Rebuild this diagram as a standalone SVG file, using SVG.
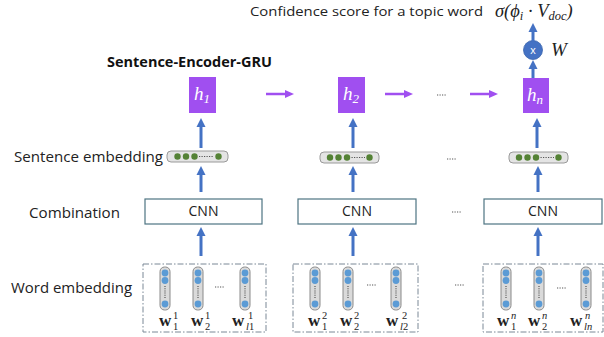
<svg xmlns="http://www.w3.org/2000/svg" width="604" height="337" viewBox="0 0 604 337">
  <defs>
    <style>
      .lbl { font-family: "Open Sans", "Liberation Sans", sans-serif; font-size: 14px; fill: #222; }
      .ttl { font-family: "Open Sans", "Liberation Sans", sans-serif; font-size: 13.5px; fill: #222; }
      .bold { font-family: "Open Sans", "Liberation Sans", sans-serif; font-size: 13.5px; font-weight: bold; fill: #111; }
      .math { font-family: "Liberation Serif", "DejaVu Serif", serif; font-style: italic; fill: #222; }
      .hlab { font-family: "Liberation Serif", "DejaVu Serif", serif; font-style: italic; fill: #fff; font-size: 19px; }
      .hsub { font-size: 13px; }
      .w { font-family: "Liberation Serif", "DejaVu Serif", serif; font-weight: bold; font-size: 17px; fill: #222; }
      .ix { font-family: "Liberation Serif", "DejaVu Serif", serif; font-size: 10.5px; fill: #222; }
      .ixi { font-family: "Liberation Serif", "DejaVu Serif", serif; font-style: italic; font-size: 10.5px; fill: #222; }
      .hbox { fill: #a04ff0; }
      .cnn { fill: #fff; stroke: #4e7482; stroke-width: 1.2; }
      .cnntxt { font-family: "Open Sans", "Liberation Sans", sans-serif; font-size: 14px; fill: #222; text-anchor: middle; }
      .pill { fill: #e4e4e4; stroke: #9a9a9a; stroke-width: 1; }
      .gdot { fill: #548235; }
      .bdot { fill: #5b9bd5; }
      .vec { fill: #dadada; stroke: #8a8a8a; stroke-width: 1; }
      .wbox { fill: none; stroke: #7a8896; stroke-width: 1; stroke-dasharray: 6 2 1.5 2; }
      .ell { stroke: #555; stroke-width: 1.2; stroke-dasharray: 1.2 1.3; fill: none; }
      .vell { stroke: #555; stroke-width: 1.2; stroke-dasharray: 1 1.2; fill: none; }
      .blue { stroke: #4472c4; stroke-width: 3; fill: none; marker-end: url(#bhead); }
      .purp { stroke: #a04ff0; stroke-width: 2.5; fill: none; marker-end: url(#phead); }
    </style>
    <marker id="bhead" markerUnits="userSpaceOnUse" markerWidth="10" markerHeight="10" viewBox="0 0 10 10" refX="3" refY="5" orient="auto">
      <path d="M0,0.5 L9,5 L0,9.5 z" fill="#4472c4"/>
    </marker>
    <marker id="phead" markerUnits="userSpaceOnUse" markerWidth="10" markerHeight="10" viewBox="0 0 10 10" refX="3" refY="5" orient="auto">
      <path d="M0,1 L9,5 L0,9 z" fill="#a04ff0"/>
    </marker>
  </defs>

  <rect width="604" height="337" fill="#fff"/>

  <!-- row labels -->
  <g id="labels">
    <text class="ttl" x="250" y="16" textLength="233" lengthAdjust="spacingAndGlyphs">Confidence score for a topic word</text>
    <text class="bold" x="107" y="67" textLength="165" lengthAdjust="spacingAndGlyphs">Sentence-Encoder-GRU</text>
    <text class="lbl" x="14" y="162" textLength="149" lengthAdjust="spacingAndGlyphs">Sentence embedding</text>
    <text class="lbl" x="29" y="218" textLength="91" lengthAdjust="spacingAndGlyphs">Combination</text>
    <text class="lbl" x="11" y="293" textLength="121" lengthAdjust="spacingAndGlyphs">Word embedding</text>
  </g>

  <!-- output score -->
  <g id="output">
    <text class="math" x="495" y="17" font-size="18.5">σ(ϕ<tspan font-size="12.5" dy="3">i</tspan><tspan dy="-3"> · V</tspan><tspan font-size="12.5" dy="3">doc</tspan><tspan dy="-3">)</tspan></text>
  </g>
  <g id="multiply">
    <circle cx="533" cy="50" r="9.5" fill="#4472c4" stroke="#3a64ad" stroke-width="0.8"/>
    <text x="533" y="54" font-family="Liberation Sans, sans-serif" font-size="11" fill="#fff" text-anchor="middle">x</text>
    <text class="math" x="551" y="56" font-size="19">W</text>
  </g>

  <!-- GRU hidden states -->
  <g id="h1">
    <rect class="hbox" x="189" y="77" width="27" height="36"/>
    <text class="hlab" x="194" y="100">h<tspan class="hsub" dy="3">1</tspan></text>
  </g>
  <g id="h2">
    <rect class="hbox" x="338" y="77" width="27" height="36"/>
    <text class="hlab" x="343" y="100">h<tspan class="hsub" dy="3">2</tspan></text>
  </g>
  <g id="hn">
    <rect class="hbox" x="523" y="78" width="26" height="35"/>
    <text class="hlab" x="527" y="101">h<tspan class="hsub" dy="3">n</tspan></text>
  </g>

  <!-- sentence embedding vectors -->
  <g id="sent1">
    <rect class="pill" x="167" y="151" width="61" height="11" rx="4"/>
    <circle class="gdot" cx="177.5" cy="156.5" r="3.2"/>
    <circle class="gdot" cx="186" cy="156.5" r="3.2"/>
    <circle class="gdot" cx="194.5" cy="156.5" r="3.2"/>
    <line class="ell" x1="199" y1="156.5" x2="213" y2="156.5"/>
    <circle class="gdot" cx="218.5" cy="156.5" r="3.2"/>
  </g>
  <g id="sent2">
    <rect class="pill" x="320" y="152" width="59" height="11" rx="4"/>
    <circle class="gdot" cx="330" cy="157.5" r="3.2"/>
    <circle class="gdot" cx="338.5" cy="157.5" r="3.2"/>
    <circle class="gdot" cx="347" cy="157.5" r="3.2"/>
    <line class="ell" x1="351.5" y1="157.5" x2="365" y2="157.5"/>
    <circle class="gdot" cx="369.5" cy="157.5" r="3.2"/>
  </g>
  <g id="sentn">
    <rect class="pill" x="509" y="152" width="59" height="11" rx="4"/>
    <circle class="gdot" cx="519" cy="157.5" r="3.2"/>
    <circle class="gdot" cx="527.5" cy="157.5" r="3.2"/>
    <circle class="gdot" cx="536" cy="157.5" r="3.2"/>
    <line class="ell" x1="540.5" y1="157.5" x2="554" y2="157.5"/>
    <circle class="gdot" cx="558.5" cy="157.5" r="3.2"/>
  </g>

  <!-- CNN combination -->
  <g id="cnn1">
    <rect class="cnn" x="145" y="199" width="117" height="25"/>
    <text class="cnntxt" x="203.5" y="216">CNN</text>
  </g>
  <g id="cnn2">
    <rect class="cnn" x="298" y="199" width="118" height="25"/>
    <text class="cnntxt" x="357" y="216">CNN</text>
  </g>
  <g id="cnnn">
    <rect class="cnn" x="484" y="199" width="118" height="25"/>
    <text class="cnntxt" x="543" y="216">CNN</text>
  </g>

  <!-- word embeddings, sentence 1 -->
  <g id="words1">
    <rect class="wbox" x="143" y="264" width="123" height="68"/>
    <g>
      <rect class="vec" x="160" y="267" width="10" height="43" rx="4.5"/>
      <circle class="bdot" cx="165" cy="273" r="3.4"/><circle class="bdot" cx="165" cy="280.5" r="3.4"/>
      <line class="vell" x1="165" y1="286" x2="165" y2="299"/><circle class="bdot" cx="165" cy="304" r="3.4"/>
    </g>
    <g>
      <rect class="vec" x="193" y="267" width="10" height="43" rx="4.5"/>
      <circle class="bdot" cx="198" cy="273" r="3.4"/><circle class="bdot" cx="198" cy="280.5" r="3.4"/>
      <line class="vell" x1="198" y1="286" x2="198" y2="299"/><circle class="bdot" cx="198" cy="304" r="3.4"/>
    </g>
    <line class="ell" x1="215" y1="287" x2="225" y2="287"/>
    <g>
      <rect class="vec" x="240" y="267" width="10" height="43" rx="4.5"/>
      <circle class="bdot" cx="245" cy="273" r="3.4"/><circle class="bdot" cx="245" cy="280.5" r="3.4"/>
      <line class="vell" x1="245" y1="286" x2="245" y2="299"/><circle class="bdot" cx="245" cy="304" r="3.4"/>
    </g>
    <text class="w" x="159" y="326">w</text><text class="ix" x="173" y="319">1</text><text class="ix" x="173" y="330">1</text>
    <text class="w" x="191" y="326">w</text><text class="ix" x="205" y="319">1</text><text class="ix" x="205" y="330">2</text>
    <text class="w" x="232" y="326">w</text><text class="ix" x="248" y="319">1</text><text class="ixi" x="246" y="330">l<tspan font-style="normal">1</tspan></text>
  </g>

  <!-- word embeddings, sentence 2 -->
  <g id="words2">
    <rect class="wbox" x="293" y="264" width="125" height="68"/>
    <g>
      <rect class="vec" x="310" y="267" width="10" height="43" rx="4.5"/>
      <circle class="bdot" cx="315" cy="273" r="3.4"/><circle class="bdot" cx="315" cy="280.5" r="3.4"/>
      <line class="vell" x1="315" y1="286" x2="315" y2="299"/><circle class="bdot" cx="315" cy="304" r="3.4"/>
    </g>
    <g>
      <rect class="vec" x="343" y="267" width="10" height="43" rx="4.5"/>
      <circle class="bdot" cx="348" cy="273" r="3.4"/><circle class="bdot" cx="348" cy="280.5" r="3.4"/>
      <line class="vell" x1="348" y1="286" x2="348" y2="299"/><circle class="bdot" cx="348" cy="304" r="3.4"/>
    </g>
    <line class="ell" x1="367" y1="285" x2="377" y2="285"/>
    <g>
      <rect class="vec" x="391" y="267" width="10" height="43" rx="4.5"/>
      <circle class="bdot" cx="396" cy="273" r="3.4"/><circle class="bdot" cx="396" cy="280.5" r="3.4"/>
      <line class="vell" x1="396" y1="286" x2="396" y2="299"/><circle class="bdot" cx="396" cy="304" r="3.4"/>
    </g>
    <text class="w" x="308" y="326">w</text><text class="ix" x="322" y="319">2</text><text class="ix" x="322" y="330">1</text>
    <text class="w" x="340" y="326">w</text><text class="ix" x="354" y="319">2</text><text class="ix" x="354" y="330">2</text>
    <text class="w" x="386" y="326">w</text><text class="ix" x="402" y="319">2</text><text class="ixi" x="400" y="330">l<tspan font-style="normal">2</tspan></text>
  </g>

  <!-- word embeddings, sentence n -->
  <g id="wordsn">
    <rect class="wbox" x="483" y="264" width="120" height="68"/>
    <g>
      <rect class="vec" x="501" y="267" width="10" height="43" rx="4.5"/>
      <circle class="bdot" cx="506" cy="273" r="3.4"/><circle class="bdot" cx="506" cy="280.5" r="3.4"/>
      <line class="vell" x1="506" y1="286" x2="506" y2="299"/><circle class="bdot" cx="506" cy="304" r="3.4"/>
    </g>
    <g>
      <rect class="vec" x="534" y="267" width="10" height="43" rx="4.5"/>
      <circle class="bdot" cx="539" cy="273" r="3.4"/><circle class="bdot" cx="539" cy="280.5" r="3.4"/>
      <line class="vell" x1="539" y1="286" x2="539" y2="299"/><circle class="bdot" cx="539" cy="304" r="3.4"/>
    </g>
    <line class="ell" x1="557" y1="288" x2="567" y2="288"/>
    <g>
      <rect class="vec" x="581" y="267" width="10" height="43" rx="4.5"/>
      <circle class="bdot" cx="586" cy="273" r="3.4"/><circle class="bdot" cx="586" cy="280.5" r="3.4"/>
      <line class="vell" x1="586" y1="286" x2="586" y2="299"/><circle class="bdot" cx="586" cy="304" r="3.4"/>
    </g>
    <text class="w" x="497" y="326">w</text><text class="ixi" x="511" y="319">n</text><text class="ix" x="511" y="330">1</text>
    <text class="w" x="528" y="326">w</text><text class="ixi" x="542" y="319">n</text><text class="ix" x="542" y="330">2</text>
    <text class="w" x="570" y="326">w</text><text class="ixi" x="585" y="319">n</text><text class="ixi" x="584" y="330">ln</text>
  </g>

  <!-- ellipses between columns -->
  <g id="gaps">
    <line class="ell" x1="437" y1="95" x2="447" y2="95"/>
    <line class="ell" x1="447" y1="159" x2="457" y2="159"/>
    <line class="ell" x1="452" y1="212" x2="462" y2="212"/>
    <line class="ell" x1="455" y1="285" x2="465" y2="285"/>
  </g>

  <!-- connectors -->
  <g id="connectors">
    <line class="purp" x1="266" y1="94" x2="288" y2="94"/>
    <line class="purp" x1="385" y1="94" x2="407" y2="94"/>
    <line class="purp" x1="470" y1="94" x2="492" y2="94"/>

    <line class="blue" x1="201" y1="256" x2="201" y2="233"/>
    <line class="blue" x1="201" y1="192" x2="201" y2="172"/>
    <line class="blue" x1="201" y1="148" x2="201" y2="124"/>

    <line class="blue" x1="353" y1="256" x2="353" y2="233"/>
    <line class="blue" x1="353" y1="192" x2="353" y2="172"/>
    <line class="blue" x1="353" y1="148" x2="353" y2="124"/>

    <line class="blue" x1="538" y1="256" x2="538" y2="233"/>
    <line class="blue" x1="538" y1="192" x2="538" y2="172"/>
    <line class="blue" x1="537" y1="148" x2="537" y2="124"/>

    <line class="blue" x1="533" y1="78" x2="533" y2="66"/>
    <line class="blue" x1="533" y1="41" x2="533" y2="29"/>
  </g>
</svg>
